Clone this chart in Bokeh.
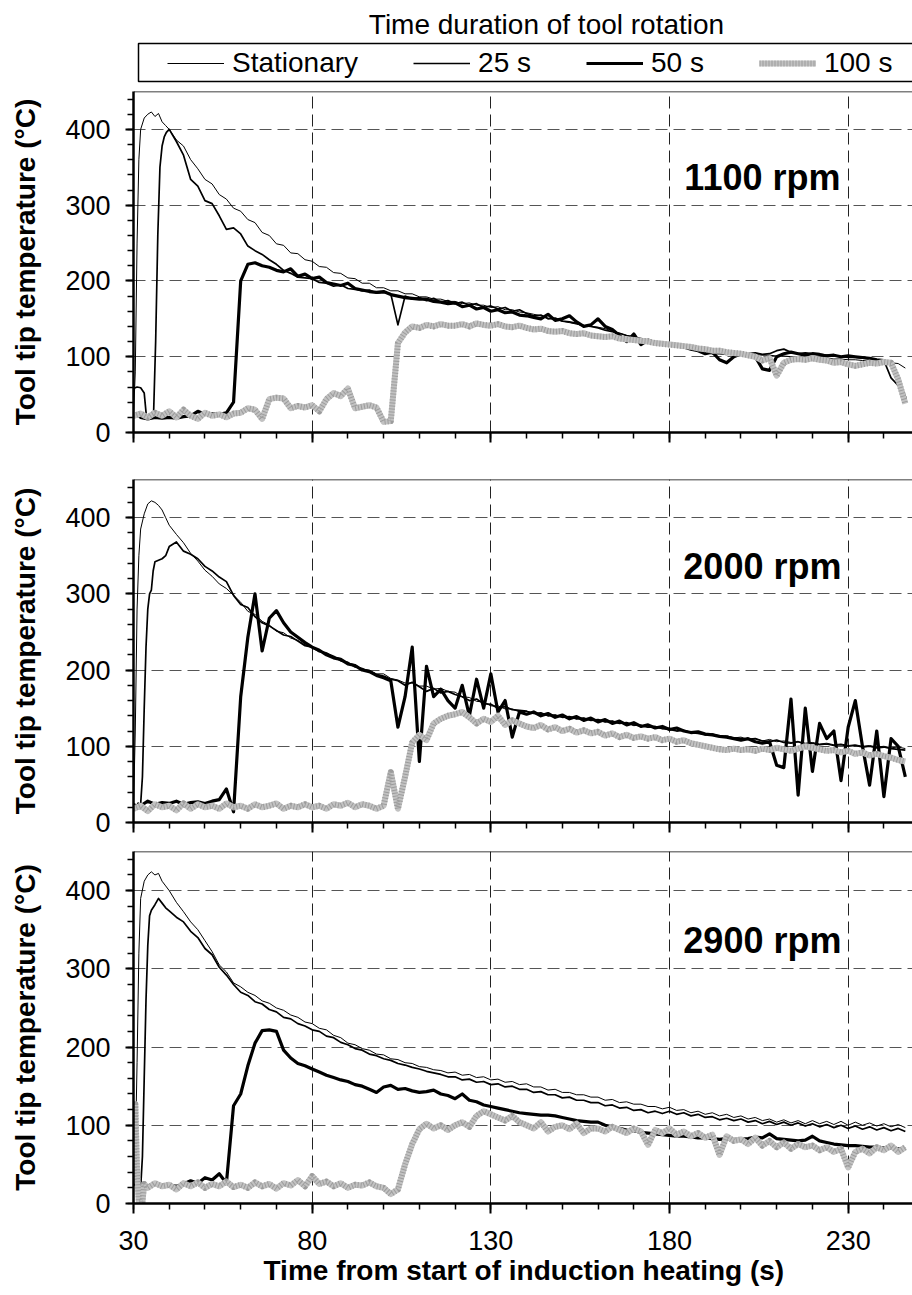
from bokeh.plotting import figure
from bokeh.models import FixedTicker, Span, Legend, LegendItem, Range1d, Title
from bokeh.layouts import column
from bokeh.embed import file_html
from bokeh.resources import INLINE
from bokeh.core.properties import value

FONT = "Liberation Sans"

# ---------------- data ----------------
SERIES_NAMES = ["Stationary", "25 s", "50 s", "100 s"]
PANEL_LABELS = ["1100 rpm", "2000 rpm", "2900 rpm"]
X_TICKS = [30, 80, 130, 180, 230]
X_MINOR = list(range(30, 246, 10))
Y_TICKS = [0, 100, 200, 300, 400]
Y_MINOR = list(range(0, 441, 20))

# common sampling times after the initial heating transient (s)
TAIL_T = list(range(40, 247, 2))

# ---- 1100 rpm ----
S1_HX = [30, 30.5, 31, 31.5, 32, 33, 34, 35, 36, 37, 38, 39]
S1_HY = [22, 80, 250, 360, 400, 415, 420, 423, 417, 421, 410, 405]
S1_T = [400, 386, 378, 360, 348, 334, 328, 314, 308, 296,
        292, 281, 277, 264, 260, 249, 247, 237, 236, 228,
        226, 219, 218, 211, 210, 204, 203, 197, 197, 191,
        191, 187, 187, 183, 183, 179, 179, 176, 176, 173,
        173, 170, 171, 168, 168, 165, 166, 162, 162, 159,
        158, 156, 154, 151, 149, 147, 145, 143, 141, 140,
        139, 137, 134, 131, 128, 126, 124, 122, 120, 118,
        117, 115, 113, 111, 110, 108, 107, 106, 105, 104,
        104, 103, 103, 102, 102, 101, 101, 100, 100, 99,
        99, 98, 98, 97, 97, 96, 96, 95, 95, 94,
        93, 92, 91, 85]

T1_HX = [30, 31, 32, 33, 33.6, 34, 35, 35.6, 36.2, 36.8, 37.4, 38, 38.6, 39.2]
T1_HY = [58, 60, 59, 52, 22, 18, 19, 21, 120, 260, 350, 378, 390, 396]
T1_T = [400, 384, 366, 334, 325, 306, 302, 286, 268, 270,
        262, 246, 240, 235, 228, 222, 214, 210, 205, 204,
        203, 198, 197, 193, 195, 190, 189, 187, 188, 184,
        185, 183, 142, 180, 176, 178, 174, 177, 172, 174,
        170, 172, 168, 170, 165, 167, 163, 165, 160, 162,
        157, 154, 155, 150, 151, 147, 146, 144, 141, 140,
        138, 135, 133, 131, 128, 126, 124, 122, 120, 118,
        117, 115, 113, 110, 108, 106, 104, 104, 103, 105,
        106, 104, 105, 103, 104, 108, 110, 106, 104, 105,
        104, 103, 102, 101, 100, 99, 99, 98, 97, 96,
        95, 72, 62, 45]

F1_HX = [31, 32, 34, 36, 38]
F1_HY = [25, 20, 18, 20, 19]
F1_T = [20, 19, 21, 22, 28, 24, 25, 24, 26, 40,
        200, 222, 224, 220, 218, 214, 212, 216, 206, 209,
        203, 205, 198, 196, 194, 197, 190, 188, 186, 185,
        186, 182, 180, 178, 177, 176, 176, 173, 172, 170,
        171, 166, 168, 163, 165, 160, 162, 158, 159, 155,
        154, 152, 150, 156, 148, 150, 154, 146, 140, 142,
        150, 140, 136, 128, 120, 130, 116, 122, 118, 117,
        116, 114, 113, 110, 108, 104, 106, 96, 92, 100,
        104, 102, 100, 84, 82, 100, 104, 106, 104, 102,
        104, 103, 101, 102, 100, 101, 100, 99, 98, 96,
        95, 90, 70, 45]

G1_HX = [30, 32, 34, 36, 38]
G1_HY = [22, 25, 20, 26, 22]
G1_T = [28, 20, 30, 22, 18, 26, 22, 24, 20, 25,
        26, 32, 30, 18, 44, 46, 45, 32, 35, 33,
        36, 28, 44, 52, 48, 58, 32, 34, 36, 33,
        14, 15, 118, 132, 140, 138, 142, 140, 143, 141,
        141, 143, 140, 144, 142, 141, 143, 140, 139, 141,
        138, 136, 137, 134, 133, 134, 131, 130, 131, 128,
        127, 126, 127, 124, 123, 122, 121, 120, 118, 117,
        116, 115, 114, 113, 111, 110, 108, 108, 106, 105,
        104, 102, 100, 95, 98, 75, 92, 96, 97, 96,
        98, 96, 95, 92, 93, 90, 88, 90, 92, 91,
        93, 92, 70, 38]

# ---- 2000 rpm ----
S2_HX = [30, 30.5, 31, 31.5, 32, 33, 34, 35, 36, 37, 38, 39]
S2_HY = [20, 120, 280, 350, 385, 405, 418, 422, 420, 416, 410, 400]
S2_T = [390, 378, 367, 353, 343, 331, 323, 313, 307, 298,
        289, 277, 273, 264, 259, 251, 249, 242, 239, 233,
        231, 225, 223, 217, 215, 209, 207, 201, 200, 195,
        195, 189, 187, 183, 183, 179, 179, 175, 176, 172,
        171, 165, 164, 159, 158, 153, 153, 149, 149, 145,
        146, 143, 143, 140, 141, 138, 139, 136, 137, 134,
        135, 132, 133, 130, 131, 127, 128, 125, 126, 123,
        124, 121, 121, 118, 119, 115, 116, 113, 114, 111,
        112, 109, 110, 107, 109, 106, 107, 105, 106, 104,
        105, 103, 104, 102, 103, 101, 102, 100, 101, 99,
        100, 98, 99, 97]

T2_HX = [30, 31, 32, 32.5, 33, 33.5, 34, 34.5, 35, 35.5, 36, 37, 38, 39]
T2_HY = [25, 22, 24, 60, 150, 230, 280, 300, 305, 330, 342, 344, 346, 350]
T2_T = [362, 368, 356, 352, 346, 336, 330, 322, 316, 298,
        286, 282, 270, 262, 258, 252, 246, 244, 238, 232,
        230, 224, 222, 218, 212, 210, 204, 202, 198, 194,
        192, 188, 186, 180, 184, 178, 172, 176, 170, 172,
        168, 165, 160, 162, 156, 155, 150, 152, 148, 147,
        146, 143, 144, 140, 141, 138, 139, 136, 137, 134,
        135, 132, 133, 130, 131, 128, 127, 125, 126, 123,
        122, 120, 121, 118, 117, 115, 116, 113, 112, 111,
        110, 109, 110, 107, 106, 108, 105, 104, 106, 103,
        104, 102, 103, 101, 102, 100, 101, 99, 100, 98,
        99, 97, 96, 95]

F2_HX = [31, 32, 34, 36, 38]
F2_HY = [25, 22, 28, 24, 26]
F2_T = [25, 28, 24, 26, 27, 25, 28, 30, 44, 14,
        165, 243, 300, 225, 268, 278, 262, 250, 243, 236,
        230, 226, 220, 216, 214, 208, 206, 200, 198, 193,
        190, 186, 125, 165, 230, 80, 205, 165, 175, 160,
        150, 180, 140, 188, 150, 195, 145, 160, 112, 145,
        142, 145, 140, 143, 138, 141, 136, 139, 134, 137,
        132, 135, 130, 133, 128, 131, 126, 128, 124, 126,
        122, 124, 120, 118, 119, 116, 115, 113, 112, 110,
        108, 110, 106, 104, 106, 75, 72, 162, 36, 150,
        67, 130, 110, 120, 55, 125, 160, 100, 49, 120,
        34, 110, 100, 60]

G2_HX = [30, 32, 34, 36, 38]
G2_HY = [18, 22, 15, 24, 20]
G2_T = [22, 16, 25, 18, 24, 20, 22, 18, 25, 20,
        22, 18, 24, 20, 22, 25, 18, 22, 20, 24,
        20, 22, 18, 24, 22, 26, 20, 24, 22, 18,
        22, 66, 18, 60, 105, 115, 108, 130, 136, 140,
        142, 145, 138, 130, 136, 132, 140, 128, 134, 130,
        126, 124, 128, 122, 125, 120, 123, 118, 121, 117,
        119, 114, 117, 112, 115, 111, 113, 110, 112, 108,
        110, 106, 108, 104, 102, 100, 98, 96, 95, 97,
        95, 96, 94, 97, 95, 98, 96, 94, 97, 100,
        98, 96, 94, 95, 92, 94, 90, 92, 88, 90,
        87, 85, 82, 80]

# ---- 2900 rpm ----
S3_HX = [30, 30.5, 31, 31.5, 32, 33, 34, 35, 36, 37, 38, 39]
S3_HY = [20, 60, 180, 320, 390, 412, 420, 424, 420, 422, 412, 406]
S3_T = [400, 385, 373, 360, 350, 336, 322, 305, 296, 282,
        277, 270, 266, 259, 256, 250, 247, 241, 238, 232,
        230, 224, 222, 215, 212, 205, 203, 198, 196, 191,
        190, 185, 184, 180, 179, 175, 174, 171, 170, 167,
        168, 164, 165, 161, 162, 158, 159, 155, 156, 152,
        153, 149, 149, 145, 146, 142, 142, 139, 139, 136,
        136, 132, 133, 129, 130, 127, 127, 124, 124, 121,
        123, 119, 120, 116, 118, 114, 116, 112, 114, 110,
        112, 108, 110, 106, 108, 104, 107, 103, 106, 102,
        106, 102, 105, 101, 105, 100, 104, 100, 103, 99,
        102, 98, 101, 97]

T3_HX = [30, 31, 32, 32.5, 33, 33.5, 34, 34.5, 35, 36, 37, 38, 39]
T3_HY = [25, 22, 20, 60, 160, 260, 330, 368, 375, 382, 390, 384, 378]
T3_T = [374, 366, 360, 348, 340, 326, 318, 302, 292, 280,
        270, 266, 258, 255, 248, 245, 238, 236, 230, 227,
        222, 220, 214, 212, 206, 203, 198, 196, 191, 189,
        185, 183, 179, 177, 174, 172, 169, 167, 165, 162,
        162, 158, 159, 155, 156, 152, 153, 149, 150, 146,
        146, 142, 143, 139, 139, 135, 136, 132, 132, 129,
        129, 125, 126, 122, 123, 119, 120, 116, 118, 115,
        118, 114, 116, 112, 114, 110, 111, 107, 109, 106,
        108, 104, 106, 102, 105, 101, 104, 100, 103, 99,
        102, 98, 101, 97, 100, 96, 99, 95, 98, 94,
        97, 93, 96, 92]

F3_HX = [31, 32, 34, 36, 38]
F3_HY = [24, 22, 20, 25, 22]
F3_T = [24, 22, 25, 29, 26, 33, 30, 38, 26, 125,
        140, 176, 205, 221, 222, 220, 196, 186, 179, 176,
        172, 168, 164, 161, 158, 156, 152, 150, 146, 142,
        149, 151, 146, 147, 144, 142, 143, 145, 140, 138,
        134, 140, 132, 130, 126, 124, 122, 120, 118, 116,
        115, 114, 113, 113, 112, 110, 108, 106, 105, 104,
        104, 100, 98, 96, 94, 93, 91, 90, 89, 88,
        87, 86, 86, 85, 84, 84, 83, 82, 83, 82,
        82, 83, 85, 84, 89, 83, 82, 81, 80, 81,
        86, 80, 78, 76, 75, 74, 74, 73, 72, 72,
        71, 71, 70, 70]

G3_HX = [30, 30.5, 31, 31.5, 32.5, 33, 34, 36, 38]
G3_HY = [30, 127, 40, 2, 2, 25, 20, 26, 22]
G3_T = [24, 18, 26, 22, 27, 20, 25, 22, 28, 21,
        24, 20, 27, 22, 25, 19, 26, 23, 30, 22,
        35, 25, 28, 22, 26, 20, 24, 23, 27, 22,
        20, 12, 18, 50, 76, 95, 102, 96, 100, 94,
        100, 104, 98, 112, 118, 114, 110, 106, 112, 104,
        100, 96, 104, 92, 98, 100, 95, 102, 90, 96,
        96, 92, 98, 94, 90, 96, 92, 75, 94, 90,
        96, 88, 92, 86, 90, 84, 88, 62, 86, 80,
        82, 76, 84, 74, 80, 72, 78, 70, 76, 72,
        74, 68, 72, 66, 70, 46, 66, 70, 64, 72,
        68, 74, 66, 72]

PANELS = [
    [(S1_HX, S1_HY, S1_T), (T1_HX, T1_HY, T1_T), (F1_HX, F1_HY, F1_T), (G1_HX, G1_HY, G1_T)],
    [(S2_HX, S2_HY, S2_T), (T2_HX, T2_HY, T2_T), (F2_HX, F2_HY, F2_T), (G2_HX, G2_HY, G2_T)],
    [(S3_HX, S3_HY, S3_T), (T3_HX, T3_HY, T3_T), (F3_HX, F3_HY, F3_T), (G3_HX, G3_HY, G3_T)],
]

# ---------------- styles ----------------
# each series: list of (color, width, dash) strokes drawn on top of each other
STROKES = [
    [("#000000", 1.0, "solid")],
    [("#000000", 1.7, "solid")],
    [("#000000", 3.2, "solid")],
    [("#c2c2c2", 6.0, "solid"), ("#9c9c9c", 6.0, "1 2")],
]

W = 912
LEFT = 133
FRAME_W = W - LEFT
X_END = 30 + FRAME_W / 3.5733


def make_panel(label, series, height, b_top, b_bottom, last):
    p = figure(width=W, height=height, x_range=Range1d(30, X_END), y_range=Range1d(0, 450),
               output_backend="svg", toolbar_location=None,
               min_border_left=LEFT, min_border_right=0,
               min_border_top=b_top, min_border_bottom=b_bottom)
    p.outline_line_color = None
    p.background_fill_color = "white"
    p.border_fill_color = "white"

    # grid
    p.xgrid.grid_line_color = "#222222"
    p.xgrid.grid_line_dash = "12 6"
    p.xgrid.grid_line_width = 1
    p.ygrid.grid_line_color = "#555555"
    p.ygrid.grid_line_dash = "12 6"
    p.ygrid.grid_line_width = 1

    # y axis
    ya = p.yaxis[0]
    ya.ticker = FixedTicker(ticks=Y_TICKS, minor_ticks=Y_MINOR)
    ya.axis_line_width = 2.5
    ya.axis_line_color = "black"
    ya.major_tick_line_width = 2
    ya.minor_tick_line_width = 1.5
    ya.major_tick_out = 8
    ya.major_tick_in = 0
    ya.minor_tick_out = 6
    ya.minor_tick_in = 0
    ya.major_label_text_font = FONT
    ya.major_label_text_font_size = "27px"
    ya.major_label_text_color = "black"
    ya.major_label_standoff = 15
    ya.axis_label = "Tool tip temperature (°C)"
    ya.axis_label_text_font = FONT
    ya.axis_label_text_font_style = "bold"
    ya.axis_label_text_font_size = "28px"
    ya.axis_label_text_color = "black"
    ya.axis_label_standoff = 21

    # x axis
    xa = p.xaxis[0]
    xa.ticker = FixedTicker(ticks=X_TICKS, minor_ticks=X_MINOR)
    xa.axis_line_width = 2.5
    xa.axis_line_color = "black"
    xa.major_tick_line_width = 2
    xa.minor_tick_line_width = 1.5
    xa.major_tick_out = 10
    xa.major_tick_in = 0
    xa.minor_tick_out = 6
    xa.minor_tick_in = 0
    if last:
        xa.major_label_text_font = FONT
        xa.major_label_text_font_size = "27px"
        xa.major_label_text_color = "black"
        xa.major_label_standoff = 17
        t = Title(text="Time from start of induction heating (s)", align="left", offset=130,
                  text_font=FONT, text_font_style="bold", text_font_size="28px",
                  text_color="black", standoff=0)
        p.add_layout(t, "below")
    else:
        xa.major_label_overrides = {v: "" for v in X_TICKS}
        xa.major_label_text_font_size = "0px"
        xa.major_label_standoff = 0

    # top border
    p.add_layout(Span(location=450, dimension="width", line_color="black", line_width=1.5))

    for (hx, hy, tail), strokes in zip(series, STROKES):
        xs = list(hx) + TAIL_T
        ys = list(hy) + list(tail)
        for col, lw, dash in strokes:
            p.line(xs, ys, line_color=col, line_width=lw, line_dash=dash, line_join="round")

    p.text(x=[206], y=[336], text=[label], text_font=value(FONT), text_font_style="bold",
           text_font_size="36px", text_align="center", text_baseline="middle",
           text_color="black")
    return p


# header with title and legend (coordinates are screen px relative to the frame)
HEAD_H = 91
p0 = figure(width=W, height=HEAD_H, x_range=Range1d(0, FRAME_W), y_range=Range1d(HEAD_H, 0),
            output_backend="svg", toolbar_location=None, x_axis_type=None, y_axis_type=None,
            min_border_left=LEFT, min_border_right=0, min_border_top=0, min_border_bottom=0)
p0.outline_line_color = None
p0.grid.visible = False
p0.text(x=[413], y=[24], text=["Time duration of tool rotation"], text_font=value(FONT),
        text_font_size="28px", text_align="center", text_baseline="middle", text_color="black")
p0.quad(left=[5], right=[FRAME_W + 50], top=[43], bottom=[81], fill_color=None,
        line_color="black", line_width=1.5)
items = []
for name, strokes in zip(SERIES_NAMES, STROKES):
    rs = [p0.line(x=[-20, -10], y=[-20, -20], line_color=col, line_width=lw, line_dash=dash)
          for col, lw, dash in strokes]
    items.append(LegendItem(label=name, renderers=rs))
leg = Legend(items=items, orientation="horizontal", location=(34, 11),
             glyph_width=57, glyph_height=34, label_height=34, label_standoff=8,
             spacing=55, padding=0, margin=0, border_line_color=None,
             background_fill_alpha=0, label_text_font=FONT, label_text_font_size="28px",
             label_text_color="black")
p0.add_layout(leg)

p1 = make_panel(PANEL_LABELS[0], PANELS[0], 364, 0, 23, False)
p2 = make_panel(PANEL_LABELS[1], PANELS[1], 385, 24, 18, False)
p3 = make_panel(PANEL_LABELS[2], PANELS[2], 455, 11, 92, True)

layout = column(p0, p1, p2, p3, spacing=0)
open("out.html", "w").write(file_html(layout, INLINE))
